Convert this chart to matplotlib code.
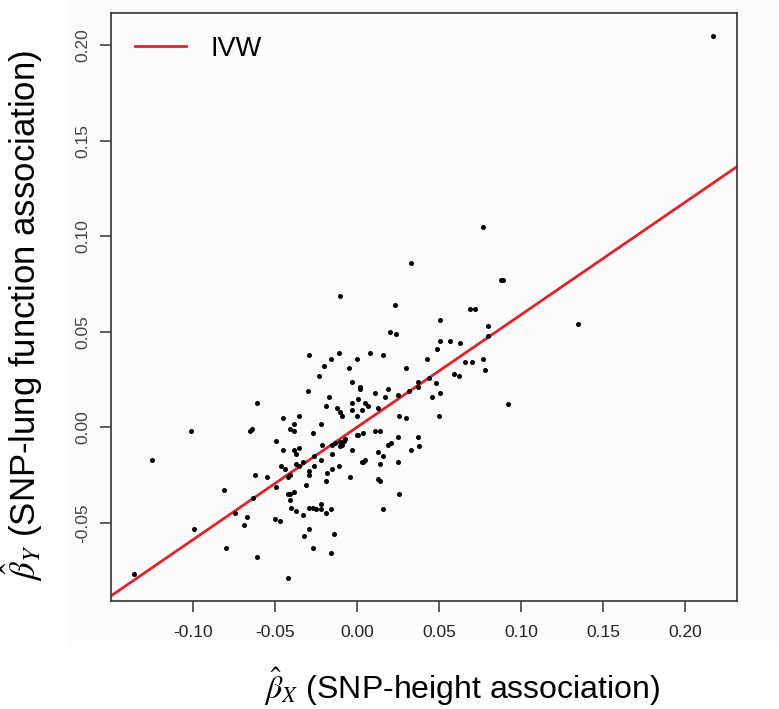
import matplotlib
matplotlib.use("Agg")
import matplotlib.pyplot as plt
from matplotlib.patches import Rectangle
from matplotlib.lines import Line2D

plt.rcParams['font.family'] = ['Liberation Sans', 'DejaVu Sans']
plt.rcParams['mathtext.fontset'] = 'stix'

# SNP-height association (x) and SNP-lung function association (y)
beta_x = [
    -0.010, 0.023, 0.069, 0.072, 0.051, 0.080, 0.020, 0.024, 0.080, 0.051,
    0.057, 0.063, 0.049, -0.029, -0.011, 0.008, 0.016, -0.016, 0.000, 0.043,
    0.077, -0.020, 0.066, 0.070, -0.005, 0.030, 0.078, -0.023, 0.059, 0.062,
    -0.003, 0.037, 0.037, 0.044, 0.048, 0.002, 0.002, 0.019, 0.032, -0.030,
    -0.017, 0.011, 0.017, 0.025, 0.046, 0.051, -0.061, -0.019, -0.003, 0.001,
    0.005, 0.007, -0.012, 0.013, -0.010, -0.009, -0.003, 0.000, 0.003, 0.026,
    0.030, 0.050, -0.045, -0.035, -0.038, -0.041, -0.038, -0.022, -0.027, -0.064,
    -0.065, -0.101, 0.000, 0.001, 0.004, 0.011, 0.014, 0.025, 0.037, -0.049,
    -0.021, -0.015, -0.013, -0.010, -0.008, -0.007, -0.009, -0.010, 0.021, 0.019,
    0.038, -0.045, -0.038, -0.035, -0.037, -0.003, 0.013, 0.033, -0.026, -0.015,
    0.016, 0.005, 0.004, 0.003, 0.014, 0.025, -0.046, -0.044, -0.035, -0.033,
    -0.037, -0.026, -0.022, -0.011, -0.029, -0.029, -0.015, -0.018, -0.041, -0.042,
    -0.062, -0.055, -0.004, -0.019, 0.013, 0.014, -0.049, -0.031, -0.081, -0.042,
    -0.041, -0.041, -0.038, -0.063, 0.026, -0.029, -0.027, -0.025, -0.022, -0.022,
    -0.019, -0.016, -0.040, -0.037, -0.033, 0.016, -0.074, -0.067, -0.069, -0.050,
    -0.047, -0.099, -0.029, -0.032, -0.014, -0.080, -0.027, -0.016, -0.061, -0.042,
    -0.125, 0.217, 0.077, 0.033, 0.088, 0.089, 0.135, 0.092, -0.136,
]
beta_y = [
    0.069, 0.064, 0.062, 0.062, 0.056, 0.053, 0.050, 0.049, 0.048, 0.045,
    0.045, 0.044, 0.041, 0.038, 0.039, 0.039, 0.038, 0.036, 0.036, 0.036,
    0.036, 0.032, 0.034, 0.034, 0.031, 0.031, 0.030, 0.027, 0.028, 0.027,
    0.024, 0.024, 0.021, 0.026, 0.023, 0.021, 0.020, 0.020, 0.019, 0.019,
    0.016, 0.018, 0.016, 0.017, 0.016, 0.018, 0.013, 0.011, 0.013, 0.015,
    0.013, 0.011, 0.010, 0.010, 0.008, 0.006, 0.009, 0.006, 0.009, 0.006,
    0.005, 0.006, 0.005, 0.006, 0.002, -0.001, -0.002, 0.002, -0.003, -0.001,
    -0.002, -0.002, -0.004, -0.004, -0.003, -0.002, -0.002, -0.005, -0.005, -0.007,
    -0.009, -0.009, -0.008, -0.0075, -0.007, -0.006, -0.009, -0.010, -0.008, -0.009,
    -0.010, -0.012, -0.012, -0.011, -0.014, -0.012, -0.013, -0.012, -0.015, -0.014,
    -0.015, -0.017, -0.018, -0.018, -0.019, -0.018, -0.020, -0.022, -0.020, -0.018,
    -0.019, -0.020, -0.017, -0.020, -0.023, -0.025, -0.022, -0.024, -0.025, -0.026,
    -0.025, -0.026, -0.026, -0.028, -0.027, -0.028, -0.031, -0.030, -0.033, -0.035,
    -0.035, -0.038, -0.034, -0.037, -0.035, -0.042, -0.042, -0.043, -0.040, -0.043,
    -0.045, -0.043, -0.042, -0.044, -0.046, -0.043, -0.045, -0.047, -0.051, -0.048,
    -0.049, -0.053, -0.053, -0.057, -0.056, -0.063, -0.063, -0.066, -0.068, -0.079,
    -0.017, 0.205, 0.105, 0.086, 0.077, 0.077, 0.054, 0.012, -0.077,
]

ivw_slope = 0.589

x_ticks = [-0.10, -0.05, 0.00, 0.05, 0.10, 0.15, 0.20]
y_ticks = [-0.05, 0.00, 0.05, 0.10, 0.15, 0.20]

fig = plt.figure(figsize=(7.79, 7.09), dpi=100, facecolor='white')
fig.patches.append(Rectangle((68 / 779, 62 / 709), 1, 1, transform=fig.transFigure,
                             facecolor='#fdfcfd', edgecolor='none', zorder=-5))

ax = fig.add_axes([111 / 779, 108 / 709, 626 / 779, 588 / 709])
ax.set_facecolor('#fdfcfd')

ax.scatter(beta_x, beta_y, s=13, color='black', linewidths=0, zorder=3)
ax.axline((0, 0), slope=ivw_slope, color='#e0222b', lw=2.0, zorder=2)

ax.set_xlim(-0.1498, 0.2317)
ax.set_ylim(-0.0909, 0.2169)
ax.set_xticks(x_ticks)
ax.set_xticklabels(['%.2f' % v for v in x_ticks])
ax.set_yticks(y_ticks)
ax.set_yticklabels(['%.2f' % v for v in y_ticks], rotation=90, va='center')

ax.tick_params(axis='x', length=8, width=1.1, color='#333333', pad=9,
               labelsize=12.5, labelcolor='#222222')
ax.tick_params(axis='y', length=8, width=1.1, color='#333333', pad=7,
               labelsize=12.5, labelcolor='#444444')
for sp in ax.spines.values():
    sp.set_color('#333333')
    sp.set_linewidth(1.2)

ax.set_xlabel(r'$\hat{\beta}_X$ (SNP-height association)', fontsize=23, va='top')
ax.xaxis.set_label_coords(0.561, -0.110)
ax.set_ylabel(r'$\hat{\beta}_Y$ (SNP-lung function association)', fontsize=25)
ax.yaxis.set_label_coords(-0.105, 0.485)

handle = Line2D([], [], color='#e0222b', lw=2.0)
ax.legend([handle], ['IVW'], loc='upper left', bbox_to_anchor=(0.038, 0.961),
          frameon=False, fontsize=19.5, handlelength=1.9, handletextpad=0.9,
          borderpad=0, borderaxespad=0)

fig.savefig('out.png', dpi=100, facecolor=fig.get_facecolor())
